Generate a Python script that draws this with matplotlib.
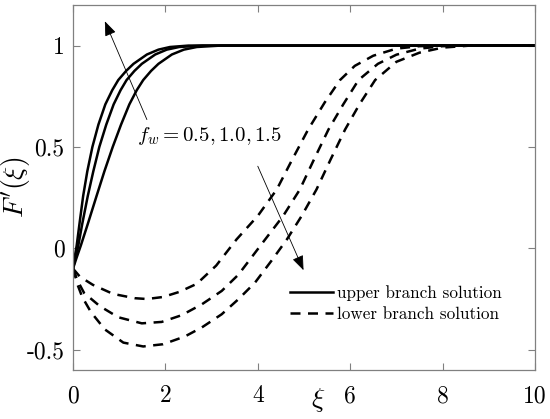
import matplotlib
matplotlib.use('Agg')
import matplotlib.pyplot as plt

plt.rcParams['font.family'] = 'serif'
plt.rcParams['font.serif'] = ['cmr10']
plt.rcParams['mathtext.fontset'] = 'cm'
plt.rcParams['axes.unicode_minus'] = False

# upper branch, fw = 1.5, 1.0, 0.5
xi_u1 = [0, 0.04, 0.08, 0.14, 0.22, 0.31, 0.42, 0.55, 0.70, 0.85, 0.98, 1.15, 1.31,
         1.6, 1.85, 2.1, 2.5, 10]
f_u1 = [-0.1, -0.04, 0.014, 0.12, 0.258, 0.38, 0.5, 0.61, 0.71, 0.78, 0.83, 0.875,
        0.91, 0.956, 0.98, 0.993, 1.0, 1.0]
xi_u2 = [0, 0.06, 0.115, 0.2, 0.32, 0.44, 0.57, 0.72, 0.88, 1.03, 1.16, 1.33, 1.49,
         1.78, 2.03, 2.3, 2.8, 10]
f_u2 = [-0.1, -0.04, 0.014, 0.12, 0.258, 0.38, 0.5, 0.61, 0.71, 0.78, 0.83, 0.875,
        0.91, 0.956, 0.98, 0.993, 1.0, 1.0]
xi_u3 = [0, 0.08, 0.17, 0.32, 0.51, 0.68, 0.86, 1.04, 1.22, 1.38, 1.52, 1.69, 1.85,
         2.14, 2.4, 2.68, 3.2, 10]
f_u3 = [-0.1, -0.045, 0.014, 0.12, 0.258, 0.38, 0.5, 0.61, 0.71, 0.78, 0.83, 0.875,
        0.91, 0.956, 0.98, 0.993, 1.0, 1.0]

# lower branch, fw = 0.5, 1.0, 1.5
xi_l1 = [0, 0.15, 0.43, 0.87, 1.34, 1.6, 1.95, 2.3, 2.68, 3.1, 3.54, 4.0, 4.41,
         4.75, 5.09, 5.45, 5.78, 6.1, 6.5, 7.0, 7.5, 8.0, 10]
f_l1 = [-0.1, -0.14, -0.18, -0.225, -0.246, -0.25, -0.24, -0.215, -0.175, -0.085, 0.044,
        0.16, 0.29, 0.44, 0.586, 0.72, 0.83, 0.9, 0.95, 0.985, 0.997, 1.0, 1.0]
xi_l2 = [0, 0.1, 0.24, 0.58, 0.98, 1.49, 1.92, 2.35, 2.79, 3.22, 3.58, 4.16, 4.55,
         4.91, 5.22, 5.53, 5.85, 6.18, 6.6, 7.0, 7.5, 8.0, 8.5, 10]
f_l2 = [-0.1, -0.16, -0.22, -0.285, -0.34, -0.37, -0.363, -0.33, -0.276, -0.21, -0.13,
        0.044, 0.16, 0.29, 0.44, 0.586, 0.71, 0.83, 0.91, 0.955, 0.985, 0.997, 1.0, 1.0]
xi_l3 = [0, 0.1, 0.2, 0.39, 0.69, 1.09, 1.52, 1.95, 2.42, 2.79, 3.22, 3.58, 3.94, 4.3,
         4.63, 4.95, 5.27, 5.58, 5.89, 6.2, 6.54, 7.0, 7.5, 8.0, 8.6, 10]
f_l3 = [-0.1, -0.18, -0.24, -0.315, -0.40, -0.465, -0.484, -0.473, -0.435, -0.39, -0.325,
        -0.251, -0.169, -0.06, 0.044, 0.16, 0.29, 0.44, 0.586, 0.71, 0.83, 0.92, 0.965,
        0.99, 1.0, 1.0]

xticks = [0, 2, 4, 6, 8, 10]
yticks = [-0.5, 0, 0.5, 1]
ytick_labels = ['-0.5', '0', '0.5', '1']

fig = plt.figure(figsize=(5.5, 4.19), dpi=100)
ax = fig.add_axes([0.1327, 0.117, 0.84, 0.871])

lw = 1.8
ax.plot(xi_u1, f_u1, 'k-', lw=lw, label='upper branch solution')
ax.plot(xi_u2, f_u2, 'k-', lw=lw)
ax.plot(xi_u3, f_u3, 'k-', lw=lw)
ax.plot(xi_l1, f_l1, 'k--', lw=lw, dashes=(4, 3), label='lower branch solution')
ax.plot(xi_l2, f_l2, 'k--', lw=lw, dashes=(4, 3))
ax.plot(xi_l3, f_l3, 'k--', lw=lw, dashes=(4, 3))

arrow = dict(arrowstyle='-|>,head_length=0.9,head_width=0.35', color='k', lw=0.6,
             shrinkA=0, shrinkB=0)
ax.annotate('', xy=(0.69, 1.12), xytext=(1.6, 0.635), arrowprops=arrow)
ax.annotate('', xy=(4.99, -0.108), xytext=(4.0, 0.405), arrowprops=arrow)
ax.text(1.38, 0.552, r'$f_w = 0.5, 1.0, 1.5$', fontsize=15, ha='left', va='center')

ax.set_xlim(0, 10)
ax.set_ylim(-0.6, 1.2)
ax.set_xticks(xticks)
ax.set_xticklabels([str(t) for t in xticks])
ax.set_yticks(yticks)
ax.set_yticklabels(ytick_labels)
ax.tick_params(direction='in', top=True, right=True, length=5, width=0.8,
               color='#808080', labelsize=17, pad=6)
ax.tick_params(axis='x', pad=11)
for s in ax.spines.values():
    s.set_color('#808080')
    s.set_linewidth(0.9)

ax.set_xlabel(r'$\xi$', fontsize=20)
ax.xaxis.set_label_coords(0.53, -0.045)
ax.set_ylabel(r"$F'(\xi)$", fontsize=20)
ax.yaxis.set_label_coords(-0.088, 0.50)

ax.legend(loc='upper left', bbox_to_anchor=(0.47, 0.232), frameon=False, fontsize=12.3,
          handlelength=2.5, handletextpad=0.25, labelspacing=0.35, borderpad=0,
          borderaxespad=0)

fig.savefig('out.png', dpi=100)
